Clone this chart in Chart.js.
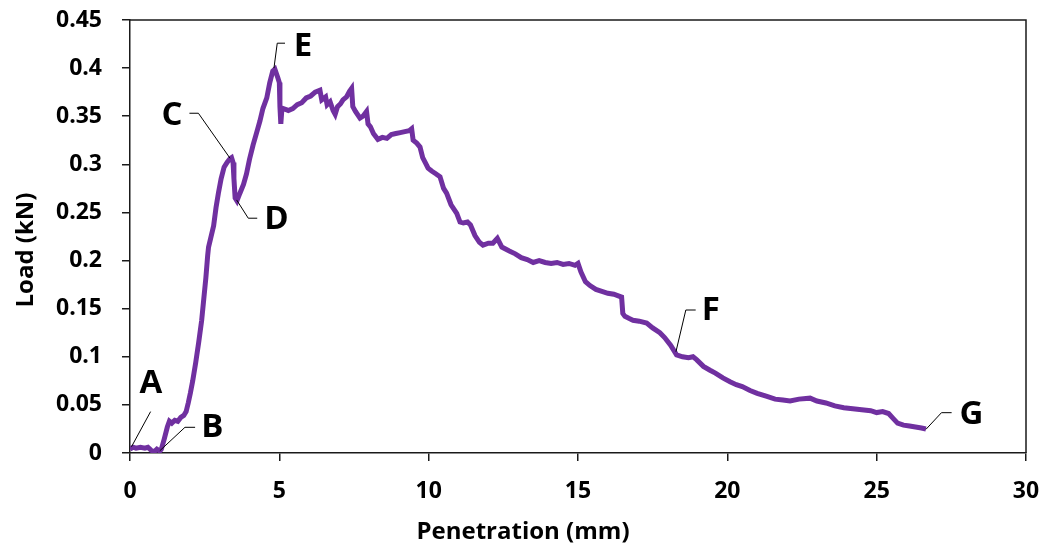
<!DOCTYPE html>
<html>
<head>
<meta charset="utf-8">
<script src="https://cdn.jsdelivr.net/npm/chart.js@4/dist/chart.umd.min.js"></script>
<style>
  html, body { margin: 0; padding: 0; background: #fff; }
  canvas { display: block; }
</style>
</head>
<body>
<canvas id="loadChart" width="1045" height="551"></canvas>
<script>
// Penetration (mm) vs Load (kN)
const penetration = [
  0, 0.1, 0.2, 0.35, 0.5, 0.6, 0.7, 0.8, 0.9, 1.0, 1.05, 1.15, 1.25, 1.32, 1.4, 1.5, 1.6, 1.7, 1.8, 1.88,
  1.95, 2.02, 2.1, 2.2, 2.3, 2.4, 2.47, 2.54, 2.6, 2.63, 2.7, 2.8, 2.88, 2.96, 3.05, 3.15, 3.25, 3.35, 3.4, 3.45,
  3.48, 3.52, 3.58, 3.68, 3.8, 3.9, 4.0, 4.12, 4.24, 4.35, 4.45, 4.58, 4.68, 4.78, 4.85, 4.95, 5.0, 5.02, 5.05, 5.08,
  5.13, 5.3, 5.45, 5.6, 5.75, 5.9, 6.05, 6.2, 6.36, 6.42, 6.55, 6.6, 6.7, 6.8, 6.87, 6.95, 7.05, 7.13, 7.25, 7.35,
  7.42, 7.46, 7.55, 7.7, 7.8, 7.92, 7.97, 8.05, 8.15, 8.3, 8.45, 8.6, 8.75, 8.9, 9.05, 9.2, 9.35, 9.43, 9.48, 9.6,
  9.71, 9.8, 9.9, 9.98, 10.1, 10.25, 10.38, 10.5, 10.6, 10.75, 10.94, 11.05, 11.16, 11.3, 11.4, 11.55, 11.7, 11.82, 12.0, 12.15,
  12.3, 12.45, 12.7, 12.9, 13.1, 13.3, 13.5, 13.7, 13.9, 14.1, 14.3, 14.5, 14.7, 14.9, 15.0, 15.1, 15.25, 15.4, 15.6, 15.8,
  16.0, 16.2, 16.46, 16.5, 16.57, 16.7, 16.84, 17.05, 17.3, 17.5, 17.74, 17.9, 18.1, 18.3, 18.5, 18.7, 18.85, 18.97, 19.2, 19.42,
  19.6, 19.85, 20.09, 20.3, 20.5, 20.76, 21.0, 21.3, 21.6, 21.86, 22.1, 22.4, 22.77, 23.0, 23.3, 23.6, 23.9, 24.2, 24.5, 24.8,
  25.0, 25.2, 25.4, 25.55, 25.7, 25.9, 26.1, 26.3, 26.5, 26.65
];
const load = [
  0.004, 0.006, 0.005, 0.006, 0.005, 0.006, 0.003, 0.001, 0.004, 0.002, 0.004, 0.015, 0.027, 0.033, 0.031, 0.034, 0.033, 0.037, 0.039, 0.043,
  0.052, 0.062, 0.075, 0.094, 0.115, 0.138, 0.16, 0.182, 0.205, 0.214, 0.223, 0.236, 0.255, 0.27, 0.285, 0.297, 0.302, 0.306, 0.307, 0.302,
  0.285, 0.265, 0.262, 0.27, 0.279, 0.29, 0.305, 0.32, 0.333, 0.345, 0.358, 0.369, 0.385, 0.397, 0.399, 0.39, 0.385, 0.36, 0.342, 0.355,
  0.358, 0.356, 0.358, 0.362, 0.364, 0.369, 0.371, 0.375, 0.377, 0.367, 0.37, 0.362, 0.365, 0.356, 0.352, 0.36, 0.363, 0.367, 0.37, 0.376,
  0.379, 0.36, 0.355, 0.348, 0.35, 0.355, 0.342, 0.339, 0.332, 0.326, 0.328, 0.327, 0.331, 0.332, 0.333, 0.334, 0.335, 0.337, 0.325, 0.322,
  0.318, 0.307, 0.301, 0.296, 0.293, 0.29, 0.287, 0.275, 0.27, 0.258, 0.249, 0.24, 0.239, 0.24, 0.237, 0.226, 0.219, 0.216, 0.218, 0.218,
  0.223, 0.214, 0.21, 0.207, 0.203, 0.201, 0.198, 0.2, 0.198, 0.197, 0.198, 0.196, 0.197, 0.195, 0.197, 0.188, 0.178, 0.174, 0.17, 0.168,
  0.166, 0.165, 0.162, 0.145, 0.142, 0.14, 0.138, 0.137, 0.135, 0.13, 0.125, 0.12, 0.112, 0.102, 0.1, 0.099, 0.1, 0.097, 0.09, 0.086,
  0.083, 0.078, 0.074, 0.071, 0.069, 0.065, 0.062, 0.059, 0.056, 0.055, 0.054, 0.056, 0.057, 0.054, 0.052, 0.049, 0.047, 0.046, 0.045, 0.044,
  0.042, 0.043, 0.041, 0.036, 0.031, 0.029, 0.028, 0.027, 0.026, 0.025
];

// Point labels A-G: leader line vertices and label centre (data units)
const markerNames = ['A', 'B', 'C', 'D', 'E', 'F', 'G'];
const leaderX = [[0.05, 0.69], [1.0, 1.84, 2.18], [3.35, 2.29, 1.99], [3.57, 3.96, 4.26], [4.82, 4.93, 5.19], [18.28, 18.61, 18.94], [26.65, 27.17, 27.51]];
const leaderY = [[0.0065, 0.043], [0.0024, 0.0267, 0.0267], [0.3063, 0.3531, 0.3531], [0.263, 0.244, 0.244], [0.40, 0.4259, 0.4259], [0.1053, 0.1486, 0.1486], [0.0246, 0.0419, 0.0419]];
const markerX = [0.70, 2.76, 1.41, 4.90, 5.79, 19.45, 28.17];
const markerY = [0.0717, 0.026, 0.351, 0.243, 0.4226, 0.1476, 0.0395];

const FONT = "'Open Sans', 'Noto Sans', sans-serif";
const AXIS_COLOR = '#1a1a1a';

const framePlugin = {
    id: 'frameAndLabels',
    afterDraw(chart) {
        const { ctx, chartArea: a, scales } = chart;
        const sx = scales.x, sy = scales.y;
        ctx.save();

        // top + right border of the plot box
        ctx.strokeStyle = AXIS_COLOR;
        ctx.lineWidth = 1.5;
        ctx.beginPath();
        ctx.moveTo(a.left, a.top);
        ctx.lineTo(a.right, a.top);
        ctx.lineTo(a.right, a.bottom);
        ctx.stroke();

        // leader lines + letters
        ctx.lineWidth = 1;
        ctx.strokeStyle = '#000';
        markerNames.forEach((name, i) => {
            ctx.beginPath();
            leaderX[i].forEach((x, j) => {
                const px = sx.getPixelForValue(x), py = sy.getPixelForValue(leaderY[i][j]);
                if (j === 0) ctx.moveTo(px, py); else ctx.lineTo(px, py);
            });
            ctx.stroke();
        });
        ctx.fillStyle = '#000';
        ctx.font = `bold 33px ${FONT}`;
        ctx.textAlign = 'center';
        ctx.textBaseline = 'middle';
        markerNames.forEach((name, i) => {
            ctx.fillText(name, sx.getPixelForValue(markerX[i]), sy.getPixelForValue(markerY[i]));
        });

        // axis titles (Excel places them off-centre)
        ctx.font = `bold 24px ${FONT}`;
        ctx.textBaseline = 'alphabetic';
        ctx.fillText('Penetration (mm)', 523, 539);
        ctx.translate(33, 250);
        ctx.rotate(-Math.PI / 2);
        ctx.fillText('Load (kN)', 0, 0);
        ctx.restore();
    }
};

const tickStyle = { font: { family: FONT, size: 23, weight: 'bold' }, color: '#000' };
// drop the label-overflow margins so the plot box sits where the layout padding puts it
const noMargins = s => { s.paddingTop = 0; s.paddingBottom = 0; s.paddingLeft = 0; s.paddingRight = 0; };

new Chart(document.getElementById('loadChart'), {
    type: 'line',
    data: {
        datasets: [{
            data: penetration.map((x, i) => ({ x, y: load[i] })),
            borderColor: '#7030A0',
            borderWidth: 5,
            pointRadius: 0,
            tension: 0,
            fill: false
        }]
    },
    options: {
        responsive: false,
        animation: false,
        layout: { padding: { top: 20, right: 19, left: 0, bottom: 0 } },
        plugins: { legend: { display: false }, tooltip: { enabled: false } },
        scales: {
            x: {
                type: 'linear', min: 0, max: 30,
                ticks: { ...tickStyle, stepSize: 5, padding: 17, maxRotation: 0 },
                grid: { drawOnChartArea: false, drawTicks: true, tickLength: 8, color: AXIS_COLOR, lineWidth: 1.5 },
                border: { display: true, color: AXIS_COLOR, width: 1.5 },
                afterFit: s => { s.height = 98; noMargins(s); }
            },
            y: {
                min: 0, max: 0.45,
                ticks: { ...tickStyle, stepSize: 0.05, padding: 20, callback: v => String(Number(v.toFixed(2))) },
                grid: { drawOnChartArea: false, drawTicks: true, tickLength: 8, color: AXIS_COLOR, lineWidth: 1.5 },
                border: { display: true, color: AXIS_COLOR, width: 1.5 },
                afterFit: s => { s.width = 130; noMargins(s); }
            }
        }
    },
    plugins: [framePlugin]
});
</script>
</body>
</html>
